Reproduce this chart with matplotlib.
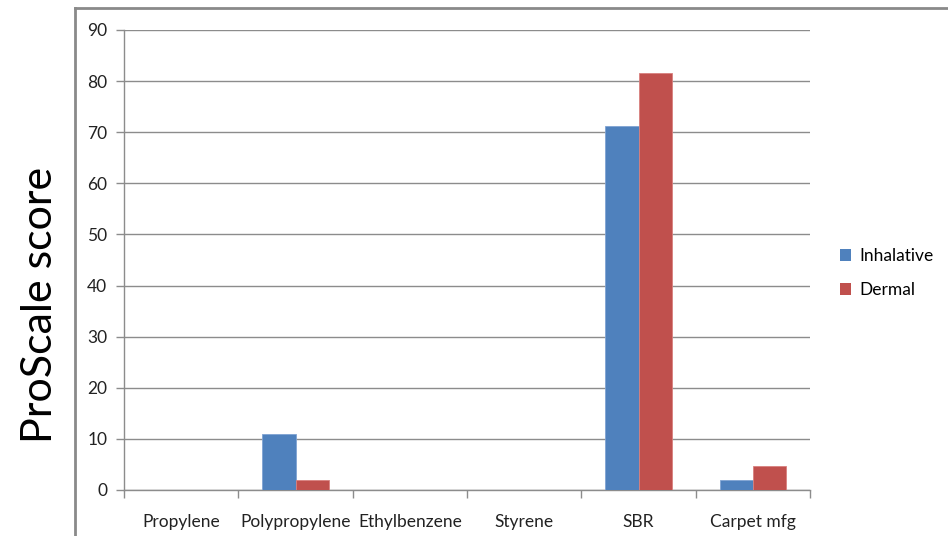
import matplotlib
matplotlib.use("Agg")
import matplotlib.pyplot as plt
from matplotlib.lines import Line2D
from matplotlib.patches import Patch
import numpy as np

plt.rcParams['font.family'] = ['Lato', 'DejaVu Sans']

categories = ["Propylene", "Polypropylene", "Ethylbenzene", "Styrene", "SBR", "Carpet mfg"]
inhalative = [0, 11, 0, 0, 71.3, 1.9]
dermal = [0, 1.9, 0, 0, 81.5, 4.6]
series_names = ["Inhalative", "Dermal"]
colors = ["#4F81BD", "#C0504D"]
y_ticks = [0, 10, 20, 30, 40, 50, 60, 70, 80, 90]

W, H = 948, 536
fig = plt.figure(figsize=(W / 100, H / 100), dpi=100)
ax = fig.add_axes([124 / W, (H - 490) / H, (810 - 124) / W, 460 / H])

x = np.arange(len(categories))
bw = 0.29
ax.bar(x - bw / 2, inhalative, bw, color=colors[0], edgecolor="#7FA3D3", linewidth=0.6, zorder=3)
ax.bar(x + bw / 2, dermal, bw, color=colors[1], edgecolor="#D8807E", linewidth=0.6, zorder=3)

ax.set_xlim(-0.5, len(categories) - 0.5)
ax.set_ylim(0, 90)
ax.set_yticks(y_ticks)
ax.set_yticklabels([str(v) for v in y_ticks], fontsize=12.5, color="#222222")
ax.yaxis.grid(True, color="#8C8C8C", linewidth=1.0, zorder=0)
ax.tick_params(axis="y", length=6, width=1.0, color="#8C8C8C", pad=6)

ax.set_xticks(x)
ax.set_xticklabels(categories, fontsize=12.5, color="#222222")
ax.set_xticks(np.arange(len(categories) + 1) - 0.5, minor=True)
ax.tick_params(axis="x", which="major", length=0, pad=17)
ax.tick_params(axis="x", which="minor", length=6, width=1.0, color="#8C8C8C")

for side in ["top", "right"]:
    ax.spines[side].set_visible(False)
for side in ["left", "bottom"]:
    ax.spines[side].set_color("#8C8C8C")
    ax.spines[side].set_linewidth(1.0)

fig.text(40 / W, (H - 305) / H, "ProScale score", rotation=90, fontsize=31,
         ha="center", va="center", color="#000000")

handles = [Patch(facecolor=c, edgecolor="none") for c in colors]
fig.legend(handles, series_names, loc="center left", bbox_to_anchor=(824 / W, (H - 273) / H),
           frameon=False, fontsize=12.5, handlelength=0.65, handleheight=0.65,
           handletextpad=0.5, labelspacing=1.05)

# outer frame lines
fig.add_artist(Line2D([75 / W, 75 / W], [0, (H - 8) / H], color="#8A8A8A", linewidth=2))
fig.add_artist(Line2D([75 / W, 1], [(H - 8) / H, (H - 8) / H], color="#8A8A8A", linewidth=2))

fig.savefig("out.png", dpi=100)
